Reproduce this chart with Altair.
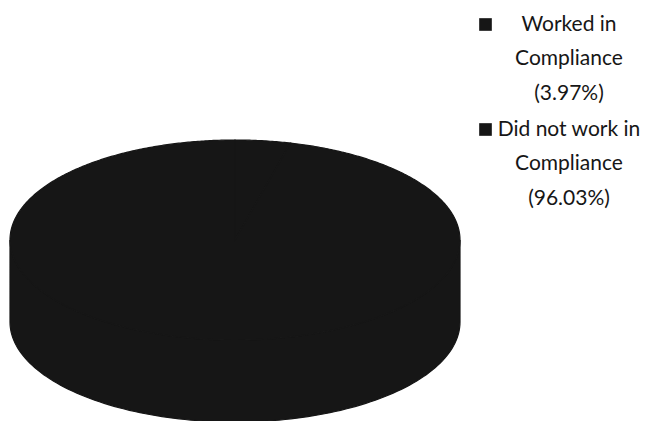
import altair as alt
import pandas as pd
import numpy as np

# ---- data ----
categories = ["Worked in\nCompliance", "Did not work in\nCompliance"]
percentages = [3.97, 96.03]
slice_colors = ["#161616", "#161616"]

labels = [f"{c}\n({p:.2f}%)" for c, p in zip(categories, percentages)]

# ---- 3-D pie geometry (tilted disc) ----
RY = 100 / 225      # vertical squash of the top face
DEPTH = 82 / 225    # thickness of the disc


def pt(theta_deg, dy=0.0):
    t = np.radians(theta_deg)
    return np.sin(t), RY * np.cos(t) + dy


rows = []
cum = np.concatenate([[0], np.cumsum(percentages)]) / sum(percentages) * 360.0
for i, lab in enumerate(labels):
    a, b = cum[i], cum[i + 1]
    lo, hi = max(a, 90.0), min(b, 270.0)
    if lo < hi:
        k = 0
        for th in np.linspace(lo, hi, 120):
            x, y = pt(th)
            rows.append(dict(label=lab, poly=f"side{i}", part="side", i=k, x=x, y=y)); k += 1
        for th in np.linspace(hi, lo, 120):
            x, y = pt(th, -DEPTH)
            rows.append(dict(label=lab, poly=f"side{i}", part="side", i=k, x=x, y=y)); k += 1
    k = 0
    rows.append(dict(label=lab, poly=f"top{i}", part="top", i=k, x=0.0, y=0.0)); k += 1
    for th in np.linspace(a, b, max(3, int((b - a) * 2))):
        x, y = pt(th)
        rows.append(dict(label=lab, poly=f"top{i}", part="top", i=k, x=x, y=y)); k += 1

df = pd.DataFrame(rows)

PAD = 0
PX = 225.0
W, H = 644, 413
xmin = -1 - (2 - PAD) / PX
xmax = xmin + W / PX
ymax = RY + (132 - PAD) / PX
ymin = ymax - H / PX

color = alt.Color(
    "label:N",
    scale=alt.Scale(domain=labels, range=slice_colors),
    legend=alt.Legend(
        title=None,
        orient="none",
        legendX=467 - PAD,
        legendY=6 - PAD,
        symbolType="square",
        symbolSize=160,
        symbolStrokeWidth=0,
        labelExpr="split(datum.label, '\\n')",
        labelFont="Lato",
        labelFontSize=21,
        labelColor="#161616",
        labelAlign="center",
        labelOffset=73,
        labelLimit=0,
        rowPadding=14,
    ),
)

stroke = alt.Stroke("label:N", scale=alt.Scale(domain=labels, range=slice_colors), legend=None)

base = alt.Chart(df).encode(
    x=alt.X("x:Q", scale=alt.Scale(domain=[xmin, xmax], nice=False, zero=False), axis=None),
    y=alt.Y("y:Q", scale=alt.Scale(domain=[ymin, ymax], nice=False, zero=False), axis=None),
    order=alt.Order("i:Q"),
    detail="poly:N",
    color=color,
    stroke=stroke,
)

sides = base.transform_filter(alt.datum.part == "side").mark_line(
    filled=True, interpolate="linear-closed", strokeWidth=1.2, clip=False
)
tops = base.transform_filter(alt.datum.part == "top").mark_line(
    filled=True, interpolate="linear-closed", strokeWidth=1.2, clip=False
)

chart = (
    alt.layer(sides, tops)
    .properties(width=W, height=H, autosize=alt.AutoSizeParams(type="none"),
                padding={"left": PAD, "top": PAD, "right": PAD, "bottom": PAD})
    .configure(background="white", style={"guide-label": {"lineHeight": 34.5}})
    .configure_view(strokeWidth=0, stroke="transparent")
)

chart.save("out.html", embed_options={"renderer": "svg", "actions": False})
